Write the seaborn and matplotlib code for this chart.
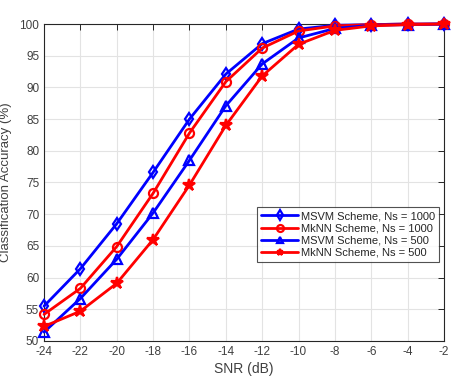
import numpy as np
import pandas as pd
import matplotlib
matplotlib.use("Agg")
import matplotlib.pyplot as plt
import seaborn as sns

# Values
snr = [-24, -22, -20, -18, -16, -14, -12, -10, -8, -6, -4, -2]
msvm_1000 = [55.5, 61.4, 68.5, 76.6, 85.0, 92.1, 96.9, 99.2, 99.8, 99.9, 100.0, 100.0]
mknn_1000 = [54.2, 58.3, 64.9, 73.3, 82.8, 90.9, 96.2, 98.9, 99.7, 99.9, 100.0, 100.0]
msvm_500 = [51.4, 56.7, 62.9, 70.2, 78.5, 87.1, 93.7, 97.8, 99.3, 99.8, 99.9, 100.0]
mknn_500 = [52.3, 54.7, 59.1, 66.0, 74.6, 84.0, 91.8, 96.8, 99.0, 99.7, 99.9, 100.0]
labels = ["MSVM Scheme, Ns = 1000", "MkNN Scheme, Ns = 1000",
          "MSVM Scheme, Ns = 500", "MkNN Scheme, Ns = 500"]

series = [msvm_1000, mknn_1000, msvm_500, mknn_500]
colors = ["#0000ff", "#ff0000", "#0000ff", "#ff0000"]
markers = ["d", "o", "^", "*"]
facecols = ["none", "none", "none", "#ff0000"]
msizes = [6.5, 6.5, 7, 9]

sns.set_style("white")
plt.rcParams["font.family"] = ["Liberation Sans", "DejaVu Sans"]
plt.rcParams["axes.unicode_minus"] = False

fig = plt.figure(figsize=(4.51, 3.78), dpi=100)
ax = fig.add_axes([0.0976, 0.0979, 0.8869, 0.8386])

for vals, lab, c, m, fc, ms in zip(series, labels, colors, markers, facecols, msizes):
    df = pd.DataFrame({"snr": snr, "acc": vals})
    sns.lineplot(data=df, x="snr", y="acc", ax=ax, color=c, marker=m,
                 markersize=ms, markerfacecolor=fc, markeredgecolor=c,
                 markeredgewidth=1.6, linewidth=2, label=lab, clip_on=False,
                 zorder=3)

ax.set_xlim(-24, -2)
ax.set_ylim(50, 100)
ax.set_xticks(np.arange(-24, -1, 2))
ax.set_yticks(np.arange(50, 101, 5))
ax.grid(True, color="#e3e3e3", linewidth=0.8)
ax.set_axisbelow(True)
for s in ax.spines.values():
    s.set_color("#262626")
    s.set_linewidth(0.8)
ax.tick_params(direction="in", length=4, width=0.7, colors="#262626",
               labelsize=8.5, top=True, right=True, labelcolor="#404040")
ax.set_xlabel("SNR (dB)", fontsize=10, color="#404040", labelpad=3)
ax.set_ylabel("Classification Accuracy (%)", fontsize=9.5, color="#404040", labelpad=5)

leg = ax.legend(loc="lower right", bbox_to_anchor=(0.988, 0.250), fontsize=8,
                frameon=True, fancybox=False, handlelength=3.4, borderpad=0.35,
                labelspacing=0.2, handletextpad=0.25, borderaxespad=0)
leg.get_frame().set_edgecolor("#262626")
leg.get_frame().set_linewidth(0.8)
for h in leg.legend_handles:
    h.set_markersize(5)

fig.savefig("out.png", dpi=100)
